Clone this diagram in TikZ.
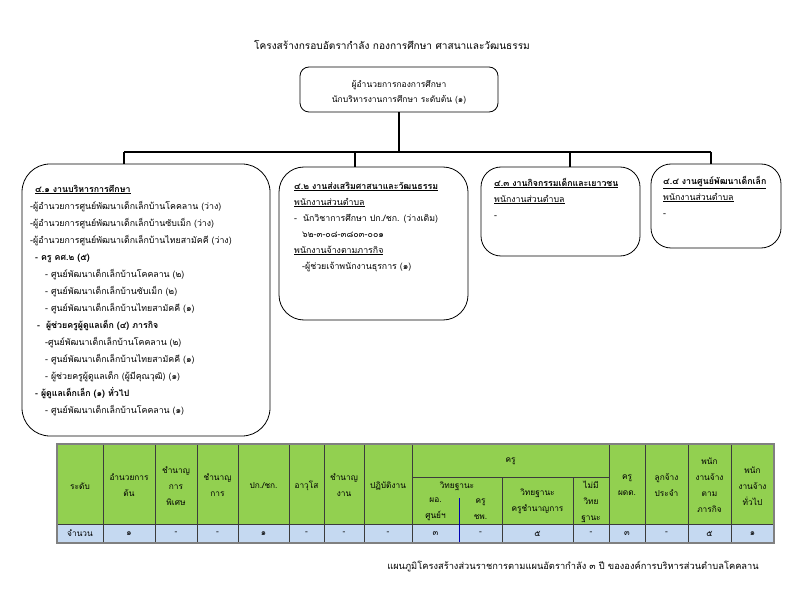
\documentclass[tikz,border=0pt]{standalone}
\usepackage{fontspec}
\newfontfamily\thai[Script=Thai]{Loma}
\usetikzlibrary{calc}
\definecolor{hdrgreen}{RGB}{146,208,80}
\definecolor{rowblue}{RGB}{197,217,241}
\definecolor{gridc}{RGB}{60,60,60}
\begin{document}
\begin{tikzpicture}[x=1pt,y=-1pt,
  orgbox/.style={draw, line width=0.8pt, rounded corners=#1, inner sep=0pt},
  conn/.style={line width=1.7pt},
  ln/.style={font=\thai\fontsize{8.8}{17}\selectfont, anchor=mid west, inner sep=0pt},
  lnb/.style={ln, font=\thai\bfseries\fontsize{8.8}{17}\selectfont},
  cell/.style={font=\thai\fontsize{8.3}{16}\selectfont, align=center, inner sep=0pt},
  grid/.style={draw=gridc, line width=0.7pt}]
\useasboundingbox (0,0) rectangle (792,612);
\fill[white] (0,0) rectangle (792,612);

% title
\node[font=\thai\fontsize{10.1}{12}\selectfont, inner sep=0pt] (title) at (392,45) {โครงสร้างกรอบอัตรากำลัง กองการศึกษา ศาสนาและวัฒนธรรม};

% top box
\node[orgbox=9pt, minimum width=198pt, minimum height=45pt] (top) at (399,89.5) {};
\node[font=\thai\fontsize{8.5}{15}\selectfont, inner sep=0pt] (top1) at (399,85) {ผู้อำนวยการกองการศึกษา};
\node[font=\thai\fontsize{8.5}{15}\selectfont, inner sep=0pt] (top2) at (399,100) {นักบริหารงานการศึกษา ระดับต้น (๑)};

% department boxes
\node[orgbox=28pt, minimum width=248pt, minimum height=272pt] (b1) at (146,300) {};
\node[orgbox=25pt, minimum width=189pt, minimum height=153pt] (b2) at (373.5,243.5) {};
\node[orgbox=20pt, minimum width=159pt, minimum height=89pt] (b3) at (560.5,211.5) {};
\node[orgbox=20pt, minimum width=130pt, minimum height=84pt] (b4) at (716,206) {};

% connectors
\coordinate (bus) at (399,152);
\coordinate (d1) at (124,152);
\coordinate (d2) at (355,152);
\coordinate (d3) at (570,152);
\coordinate (d4) at (711,152);
\draw[conn] (top.south) -- (bus);
\draw[conn] (d1) -- (d4);
\draw[conn] (d1) -- (d1 |- b1.north);
\draw[conn] (d2) -- (d2 |- b2.north);
\draw[conn] (d3) -- (d3 |- b3.north);
\draw[conn] (d4) -- (d4 |- b4.north);

% box 1 text
\node[lnb] (a1) at (35,190) {\underline{๔.๑ งานบริหารการศึกษา}};
\node[ln] (a2) at (30,207) {-ผู้อำนวยการศูนย์พัฒนาเด็กเล็กบ้านโคคลาน (ว่าง)};
\node[ln] (a3) at (30,224) {-ผู้อำนวยการศูนย์พัฒนาเด็กเล็กบ้านซับเม็ก (ว่าง)};
\node[ln] (a4) at (30,241) {-ผู้อำนวยการศูนย์พัฒนาเด็กเล็กบ้านไทยสามัคคี (ว่าง)};
\node[lnb] (a5) at (35,258) {- ครู คศ.๒ (๕)};
\node[ln] (a6) at (45,275) {- ศูนย์พัฒนาเด็กเล็กบ้านโคคลาน (๒)};
\node[ln] (a7) at (45,292) {- ศูนย์พัฒนาเด็กเล็กบ้านซับเม็ก (๒)};
\node[ln] (a8) at (45,309) {- ศูนย์พัฒนาเด็กเล็กบ้านไทยสามัคคี (๑)};
\node[lnb] (a9) at (37,326) {- \ ผู้ช่วยครูผู้ดูแลเด็ก (๔) ภารกิจ};
\node[ln] (a10) at (45,343) {-ศูนย์พัฒนาเด็กเล็กบ้านโคคลาน (๒)};
\node[ln] (a11) at (45,360) {- ศูนย์พัฒนาเด็กเล็กบ้านไทยสามัคคี (๑)};
\node[ln] (a12) at (45,377) {- ผู้ช่วยครูผู้ดูแลเด็ก (ผู้มีคุณวุฒิ) (๑)};
\node[lnb] (a13) at (35,394) {- ผู้ดูแลเด็กเล็ก (๑) ทั่วไป};
\node[ln] (a14) at (45,411) {- ศูนย์พัฒนาเด็กเล็กบ้านโคคลาน (๑)};

% box 2 text
\node[lnb] (e1) at (294,187) {\underline{๔.๒ งานส่งเสริมศาสนาและวัฒนธรรม}};
\node[ln] (e2) at (294,203) {\underline{พนักงานส่วนตำบล}};
\node[ln] (e3) at (294,219) {- \ นักวิชาการศึกษา ปก./ชก. (ว่างเดิม)};
\node[ln] (e4) at (302,235) {๖๒-๓-๐๘-๓๘๐๓-๐๐๑};
\node[ln] (e5) at (294,251) {\underline{พนักงานจ้างตามภารกิจ}};
\node[ln] (e6) at (302,267) {-ผู้ช่วยเจ้าพนักงานธุรการ (๑)};

% box 3 text
\node[lnb] (f1) at (494,184) {\underline{๔.๓ งานกิจกรรมเด็กและเยาวชน}};
\node[ln] (f2) at (494,200) {\underline{พนักงานส่วนตำบล}};
\node[ln] (f3) at (494,216) {-};

% box 4 text
\node[lnb] (g1) at (663,182) {\underline{๔.๔ งานศูนย์พัฒนาเด็กเล็ก}};
\node[ln] (g2) at (663,198) {\underline{พนักงานส่วนตำบล}};
\node[ln] (g3) at (663,214) {-};

% table
\fill[hdrgreen] (57,444) rectangle (774,524);
\fill[rowblue] (57,524) rectangle (774,543);
\foreach \xx in {103,155,197,238,289,324,364,412,609,645,688,731}
  \draw[grid] (\xx,444) -- (\xx,543);
\foreach \xx in {502,573}
  \draw[grid] (\xx,477) -- (\xx,543);
\draw[grid] (412,477) -- (609,477);
\draw[grid] (57,524) -- (774,524);
\draw[draw=blue!70!black, line width=0.6pt] (459,498) -- (459,543);
\draw[draw=gray, line width=1.1pt] (57,444) rectangle (774,543);

\node[cell] (h1) at (80,486) {ระดับ};
\node[cell] (h2) at (129,485.5) {อำนวยการ\\ต้น};
\node[cell] (h3) at (176,486) {ชำนาญ\\การ\\พิเศษ};
\node[cell] (h4) at (217.5,485.5) {ชำนาญ\\การ};
\node[cell] (h5) at (263.5,486) {ปก./ชก.};
\node[cell] (h6) at (306.5,486) {อาวุโส};
\node[cell] (h7) at (344,485.5) {ชำนาญ\\งาน};
\node[cell] (h8) at (388,486) {ปฏิบัติงาน};
\node[cell] (h9) at (510.5,461) {ครู};
\node[cell] (h10) at (457,486) {วิทยฐานะ};
\node[cell] (h11) at (435.5,509.5) {ผอ.\\ศูนย์ฯ};
\node[cell] (h12) at (480.5,509.5) {ครู\\ชพ.};
\node[cell] (h13) at (537.5,501) {วิทยฐานะ\\ครูชำนาญการ};
\node[cell] (h14) at (591,502) {ไม่มี\\วิทย\\ฐานะ};
\node[cell] (h15) at (627,485.5) {ครู\\ผดด.};
\node[cell] (h16) at (666.5,485.5) {ลูกจ้าง\\ประจำ};
\node[cell] (h17) at (709.5,485) {พนัก\\งานจ้าง\\ตาม\\ภารกิจ};
\node[cell] (h18) at (752.5,486) {พนัก\\งานจ้าง\\ทั่วไป};

\node[cell] (v1) at (80,533.5) {จำนวน};
\node[cell] (v2) at (129,533.5) {๑};
\node[cell] (v3) at (176,533.5) {-};
\node[cell] (v4) at (217.5,533.5) {-};
\node[cell] (v5) at (263.5,533.5) {๑};
\node[cell] (v6) at (306.5,533.5) {-};
\node[cell] (v7) at (344,533.5) {-};
\node[cell] (v8) at (388,533.5) {-};
\node[cell] (v9) at (435.5,533.5) {๓};
\node[cell] (v10) at (480.5,533.5) {-};
\node[cell] (v11) at (537.5,533.5) {๕};
\node[cell] (v12) at (591,533.5) {-};
\node[cell] (v13) at (627,533.5) {๓};
\node[cell] (v14) at (666.5,533.5) {-};
\node[cell] (v15) at (709.5,533.5) {๕};
\node[cell] (v16) at (752.5,533.5) {๑};

% footer
\node[font=\thai\fontsize{9.3}{11}\selectfont, inner sep=0pt] (foot) at (573,567) {แผนภูมิโครงสร้างส่วนราชการตามแผนอัตรากำลัง ๓ ปี ขององค์การบริหารส่วนตำบลโคคลาน};
\end{tikzpicture}
\end{document}
